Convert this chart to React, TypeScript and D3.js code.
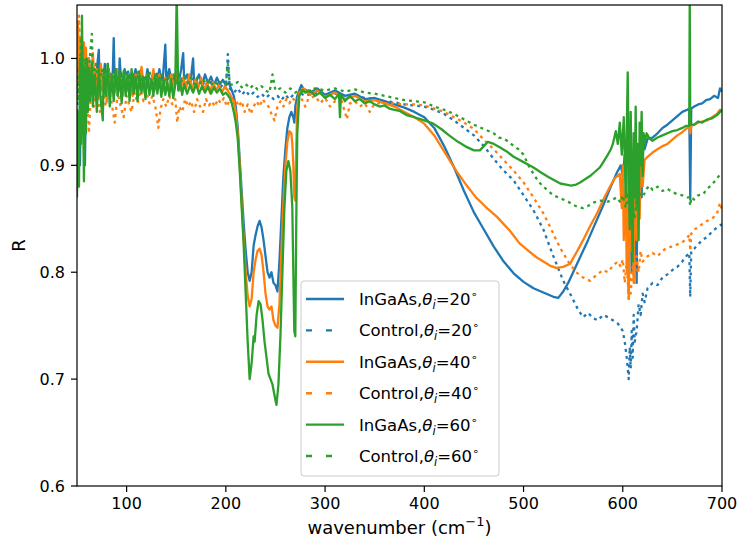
import React from "react";
import * as d3 from "d3";

// wavenumber (cm^-1), reflectance R
const ingaas20: [number, number][] = [
  [50, 0.92], [51, 0.89], [52, 0.95], [53, 0.9], [54, 0.97], [55, 0.93], [56, 0.99], [57, 0.95], [58, 0.9], [59, 0.97],
  [60, 0.99], [61, 0.96], [62, 1.0], [64, 0.975], [66, 0.995], [68, 0.97], [70, 0.99], [72, 1.008], [73, 0.965], [74, 0.985],
  [76, 0.97], [78, 0.995], [80, 0.975], [82, 0.99], [84, 0.97], [86, 0.985], [87, 1.019], [88, 0.975], [90, 0.99], [92, 0.97],
  [93, 1.0], [94, 0.985], [96, 0.975], [98, 0.99], [100, 0.97], [103, 0.985], [106, 0.975], [109, 0.99], [112, 0.975], [115, 0.985],
  [118, 0.97], [121, 0.99], [124, 0.975], [127, 0.985], [130, 0.975], [133, 0.99], [136, 0.975], [139, 1.013], [140, 0.98], [143, 0.99],
  [146, 0.975], [149, 0.985], [152, 0.975], [155, 0.99], [157, 1.005], [158, 0.98], [161, 0.985], [164, 0.975], [167, 1.0], [168, 0.978],
  [170, 0.978], [173, 0.985], [176, 0.975], [179, 0.985], [182, 0.977], [185, 0.983], [188, 0.975], [191, 0.982], [194, 0.976], [197, 0.98],
  [200, 0.975], [203, 0.977], [206, 0.97], [208, 0.965], [210, 0.955], [212, 0.935], [214, 0.905], [216, 0.875], [218, 0.845], [220, 0.82],
  [222, 0.8], [224, 0.792], [226, 0.8], [228, 0.825], [230, 0.835], [232, 0.843], [234, 0.848], [236, 0.842], [238, 0.83], [240, 0.815],
  [242, 0.8], [244, 0.795], [246, 0.8], [248, 0.79], [250, 0.788], [252, 0.782], [254, 0.81], [256, 0.85], [258, 0.89], [260, 0.915],
  [262, 0.935], [264, 0.945], [266, 0.95], [268, 0.945], [269, 0.94], [270, 0.955], [272, 0.965], [274, 0.97], [276, 0.975], [278, 0.972],
  [285, 0.968], [292, 0.972], [300, 0.966], [310, 0.97], [320, 0.965], [330, 0.967], [340, 0.962], [350, 0.963], [360, 0.96], [370, 0.957],
  [380, 0.954], [390, 0.95], [400, 0.945], [410, 0.935], [420, 0.918], [430, 0.898], [440, 0.876], [450, 0.856], [460, 0.84], [470, 0.824],
  [480, 0.81], [490, 0.799], [500, 0.791], [510, 0.785], [520, 0.781], [530, 0.777], [535, 0.776], [540, 0.782], [545, 0.79], [550, 0.8],
  [557, 0.814], [565, 0.83], [572, 0.845], [580, 0.862], [587, 0.878], [594, 0.893], [598, 0.9], [600, 0.89], [602, 0.91], [604, 0.86],
  [605, 0.92], [606, 0.78], [607, 0.89], [608, 0.91], [609, 0.8], [610, 0.9], [611, 0.86], [612, 0.92], [614, 0.79], [615, 0.91],
  [616, 0.88], [618, 0.93], [619, 0.87], [620, 0.925], [622, 0.915], [625, 0.925], [630, 0.926], [635, 0.93], [640, 0.935], [645, 0.938],
  [650, 0.942], [655, 0.946], [660, 0.95], [665, 0.952], [667, 0.953], [668, 0.868], [669, 0.953], [672, 0.955], [676, 0.957], [680, 0.958],
  [684, 0.961], [688, 0.962], [692, 0.965], [696, 0.963], [698, 0.972], [700, 0.969],
];

const control20: [number, number][] = [
  [50, 0.95], [53, 1.0], [56, 0.97], [59, 0.995], [62, 0.975], [65, 0.99], [68, 0.972], [71, 0.992], [74, 0.978], [77, 0.99],
  [80, 0.975], [83, 0.988], [86, 0.978], [89, 0.99], [92, 0.975], [95, 0.987], [98, 0.978], [101, 0.99], [104, 0.976], [107, 0.985],
  [110, 0.975], [113, 0.988], [116, 0.978], [119, 0.985], [122, 0.975], [125, 0.985], [128, 0.978], [131, 0.987], [134, 0.976], [137, 0.984],
  [140, 0.977], [143, 0.985], [146, 0.976], [149, 0.984], [152, 0.977], [155, 0.983], [158, 0.976], [161, 0.982], [164, 0.975], [167, 0.981],
  [170, 0.976], [173, 0.98], [176, 0.974], [179, 0.979], [182, 0.974], [185, 0.978], [188, 0.973], [191, 0.977], [194, 0.972], [197, 0.976],
  [200, 0.972], [202, 1.004], [204, 0.972], [208, 0.968], [212, 0.972], [216, 0.966], [220, 0.97], [224, 0.965], [228, 0.968], [232, 0.964],
  [236, 0.967], [240, 0.963], [244, 0.966], [248, 0.962], [252, 0.965], [256, 0.961], [260, 0.966], [264, 0.962], [268, 0.966], [272, 0.963],
  [276, 0.967], [280, 0.965], [290, 0.968], [300, 0.966], [310, 0.967], [320, 0.965], [330, 0.966], [340, 0.963], [350, 0.962], [360, 0.96],
  [370, 0.959], [380, 0.957], [390, 0.956], [400, 0.955], [410, 0.952], [420, 0.948], [430, 0.942], [440, 0.935], [450, 0.928], [460, 0.918],
  [470, 0.906], [480, 0.895], [490, 0.886], [500, 0.872], [510, 0.858], [520, 0.84], [530, 0.815], [540, 0.792], [548, 0.778], [555, 0.765],
  [560, 0.758], [565, 0.762], [570, 0.757], [575, 0.755], [580, 0.76], [585, 0.758], [590, 0.755], [595, 0.752], [598, 0.748], [600, 0.745],
  [602, 0.735], [604, 0.72], [606, 0.7], [607, 0.73], [608, 0.71], [609, 0.745], [610, 0.72], [611, 0.76], [612, 0.735], [614, 0.745],
  [616, 0.77], [618, 0.76], [620, 0.78], [622, 0.772], [625, 0.785], [630, 0.79], [635, 0.788], [640, 0.795], [645, 0.798], [650, 0.802],
  [655, 0.805], [660, 0.81], [664, 0.815], [667, 0.818], [668, 0.777], [669, 0.82], [672, 0.822], [676, 0.826], [680, 0.83], [685, 0.833],
  [690, 0.838], [695, 0.842], [700, 0.845],
];

const ingaas40: [number, number][] = [
  [50, 0.96], [51, 1.035], [52, 0.98], [53, 1.02], [54, 0.95], [55, 1.01], [56, 0.97], [57, 1.015], [58, 0.98], [59, 1.01],
  [60, 0.965], [62, 1.0], [64, 0.975], [66, 1.005], [68, 0.97], [70, 0.99], [72, 0.965], [74, 0.995], [76, 0.97], [78, 0.985],
  [80, 0.96], [82, 0.99], [84, 0.972], [86, 0.985], [88, 0.968], [90, 0.99], [92, 0.97], [94, 0.982], [96, 0.965], [98, 0.985],
  [100, 0.97], [103, 0.98], [106, 0.965], [109, 0.985], [112, 0.97], [115, 0.992], [118, 0.968], [121, 0.985], [124, 0.972], [127, 0.99],
  [130, 0.97], [133, 0.985], [136, 0.968], [139, 0.982], [142, 0.97], [145, 0.985], [148, 0.972], [151, 0.988], [154, 0.97], [157, 0.982],
  [160, 0.972], [163, 0.985], [166, 0.97], [169, 0.98], [172, 0.972], [175, 0.982], [178, 0.97], [181, 0.978], [184, 0.968], [187, 0.978],
  [190, 0.97], [193, 0.975], [196, 0.968], [199, 0.974], [202, 0.97], [205, 0.965], [208, 0.96], [210, 0.95], [212, 0.93], [214, 0.9],
  [216, 0.865], [218, 0.83], [220, 0.8], [222, 0.778], [224, 0.768], [226, 0.775], [228, 0.8], [230, 0.812], [232, 0.82], [234, 0.822],
  [236, 0.816], [238, 0.8], [240, 0.78], [242, 0.768], [244, 0.765], [246, 0.768], [248, 0.755], [250, 0.75], [252, 0.748], [254, 0.77],
  [256, 0.82], [258, 0.865], [260, 0.9], [262, 0.922], [264, 0.932], [266, 0.93], [267, 0.92], [268, 0.9], [269, 0.87], [270, 0.867],
  [271, 0.92], [272, 0.955], [274, 0.968], [276, 0.97], [278, 0.972], [285, 0.966], [292, 0.97], [300, 0.964], [310, 0.968], [320, 0.962],
  [330, 0.965], [340, 0.96], [350, 0.961], [360, 0.958], [370, 0.955], [380, 0.95], [390, 0.945], [400, 0.939], [410, 0.928], [420, 0.913],
  [432, 0.895], [442, 0.882], [452, 0.87], [462, 0.861], [473, 0.852], [480, 0.845], [486, 0.839], [496, 0.827], [505, 0.82], [513, 0.814],
  [520, 0.81], [527, 0.806], [533, 0.804], [540, 0.805], [547, 0.808], [553, 0.818], [560, 0.83], [567, 0.843], [574, 0.855], [580, 0.867],
  [587, 0.88], [592, 0.888], [597, 0.892], [599, 0.86], [600, 0.9], [601, 0.83], [603, 0.88], [604, 0.8], [605, 0.9], [606, 0.775],
  [607, 0.86], [608, 0.91], [609, 0.82], [610, 0.88], [611, 0.79], [612, 0.9], [614, 0.83], [615, 0.92], [617, 0.85], [618, 0.9],
  [620, 0.88], [622, 0.905], [625, 0.908], [630, 0.912], [635, 0.915], [640, 0.918], [645, 0.92], [650, 0.924], [655, 0.928], [660, 0.931],
  [665, 0.935], [667, 0.936], [668, 0.93], [669, 0.937], [672, 0.938], [676, 0.94], [680, 0.941], [685, 0.942], [690, 0.945], [695, 0.948],
  [698, 0.952], [700, 0.95],
];

const control40: [number, number][] = [
  [50, 1.0], [52, 1.04], [54, 0.98], [56, 1.01], [58, 0.94], [60, 0.975], [62, 0.93], [64, 0.97], [67, 0.955], [70, 0.975],
  [73, 0.95], [76, 0.97], [79, 0.955], [82, 0.972], [85, 0.958], [88, 0.94], [91, 0.968], [94, 0.955], [97, 0.945], [100, 0.965],
  [103, 0.955], [105, 0.95], [108, 0.968], [111, 0.958], [114, 0.97], [117, 0.96], [120, 0.968], [123, 0.958], [126, 0.965], [129, 0.955],
  [132, 0.935], [134, 0.952], [137, 0.962], [140, 0.955], [143, 0.965], [146, 0.957], [149, 0.962], [151, 0.94], [153, 0.955], [156, 0.95],
  [159, 0.962], [162, 0.955], [165, 0.96], [168, 0.95], [171, 0.962], [174, 0.955], [177, 0.95], [180, 0.962], [183, 0.956], [186, 0.96],
  [189, 0.955], [192, 0.962], [195, 0.958], [198, 0.963], [201, 0.955], [204, 0.962], [207, 0.957], [210, 0.962], [213, 0.955], [216, 0.96],
  [219, 0.95], [222, 0.957], [225, 0.948], [228, 0.955], [231, 0.96], [234, 0.955], [237, 0.962], [240, 0.958], [243, 0.955], [246, 0.948],
  [249, 0.942], [252, 0.955], [255, 0.96], [258, 0.955], [261, 0.962], [264, 0.958], [267, 0.963], [270, 0.96], [275, 0.965], [280, 0.955],
  [283, 0.962], [290, 0.965], [295, 0.958], [300, 0.963], [305, 0.955], [310, 0.96], [315, 0.965], [320, 0.95], [322, 0.943], [325, 0.958],
  [330, 0.96], [335, 0.955], [340, 0.958], [345, 0.95], [350, 0.958], [360, 0.958], [370, 0.958], [380, 0.957], [390, 0.957], [400, 0.956],
  [410, 0.953], [420, 0.95], [430, 0.945], [440, 0.94], [450, 0.934], [460, 0.924], [470, 0.915], [480, 0.905], [490, 0.895], [500, 0.884],
  [510, 0.87], [520, 0.855], [527, 0.842], [533, 0.83], [538, 0.821], [545, 0.81], [553, 0.8], [560, 0.795], [567, 0.792], [573, 0.797],
  [580, 0.802], [585, 0.8], [590, 0.806], [595, 0.81], [598, 0.805], [600, 0.812], [602, 0.79], [604, 0.81], [606, 0.775], [607, 0.8],
  [608, 0.78], [610, 0.805], [612, 0.79], [614, 0.815], [616, 0.8], [618, 0.82], [620, 0.81], [625, 0.815], [630, 0.818], [635, 0.815],
  [640, 0.82], [645, 0.823], [650, 0.824], [655, 0.826], [660, 0.828], [665, 0.832], [667, 0.835], [668, 0.82], [669, 0.836], [672, 0.84],
  [676, 0.842], [680, 0.845], [685, 0.848], [690, 0.85], [695, 0.855], [698, 0.865], [700, 0.858],
];

const ingaas60: [number, number][] = [
  [50, 0.87], [51, 0.95], [52, 0.88], [53, 1.0], [54, 0.92], [55, 1.04], [56, 0.96], [57, 0.885], [58, 0.99], [59, 0.93],
  [60, 1.0], [61, 0.95], [62, 0.99], [63, 0.96], [65, 0.995], [66, 0.955], [68, 0.985], [70, 0.95], [72, 0.99], [74, 0.96],
  [76, 0.942], [77, 0.99], [79, 0.965], [81, 0.995], [83, 0.955], [85, 0.985], [87, 0.96], [89, 0.99], [91, 0.965], [93, 0.985],
  [95, 0.958], [97, 0.988], [99, 0.965], [101, 0.985], [103, 0.96], [105, 0.99], [107, 0.967], [109, 0.983], [111, 0.96], [113, 0.985],
  [115, 0.968], [117, 0.982], [119, 0.962], [121, 0.985], [123, 0.966], [125, 0.98], [127, 0.965], [129, 0.985], [131, 0.967], [133, 0.982],
  [135, 0.964], [137, 0.98], [139, 0.966], [141, 0.978], [143, 0.965], [145, 0.978], [147, 0.963], [149, 0.975], [150.5, 1.06], [152, 0.97],
  [154, 0.978], [156, 0.966], [158, 0.976], [161, 0.967], [164, 0.975], [167, 0.968], [170, 0.976], [173, 0.967], [176, 0.974], [179, 0.968],
  [182, 0.974], [185, 0.967], [188, 0.973], [191, 0.968], [194, 0.972], [197, 0.966], [200, 0.968], [204, 0.963], [206, 0.958], [208, 0.95],
  [210, 0.94], [212, 0.925], [214, 0.895], [216, 0.86], [218, 0.825], [220, 0.78], [222, 0.735], [224, 0.7], [226, 0.715], [228, 0.74],
  [229, 0.735], [231, 0.76], [233, 0.773], [235, 0.77], [237, 0.755], [239, 0.735], [241, 0.72], [243, 0.705], [245, 0.7], [247, 0.695],
  [248, 0.69], [250, 0.68], [251, 0.676], [253, 0.695], [255, 0.74], [257, 0.8], [259, 0.86], [261, 0.895], [263, 0.904], [265, 0.895],
  [267, 0.86], [268, 0.8], [269, 0.745], [270, 0.74], [271, 0.85], [272, 0.93], [274, 0.965], [276, 0.968], [278, 0.97], [280, 0.968],
  [285, 0.97], [290, 0.965], [295, 0.968], [300, 0.963], [305, 0.966], [310, 0.962], [314, 0.967], [315, 0.945], [316, 0.966], [320, 0.96],
  [325, 0.965], [330, 0.96], [335, 0.962], [340, 0.958], [345, 0.96], [350, 0.957], [355, 0.955], [360, 0.956], [365, 0.953], [370, 0.952],
  [375, 0.951], [382, 0.947], [390, 0.945], [400, 0.942], [409, 0.939], [417, 0.934], [425, 0.928], [434, 0.922], [443, 0.917], [450, 0.914],
  [456, 0.914], [460, 0.918], [464, 0.922], [470, 0.92], [476, 0.917], [483, 0.913], [490, 0.908], [500, 0.903], [510, 0.898], [518, 0.893],
  [525, 0.889], [531, 0.886], [537, 0.883], [543, 0.882], [548, 0.881], [553, 0.882], [557, 0.884], [562, 0.887], [567, 0.89], [572, 0.894],
  [577, 0.898], [581, 0.904], [585, 0.91], [588, 0.915], [590, 0.92], [593, 0.932], [595, 0.92], [597, 0.94], [599, 0.91], [601, 0.945],
  [603, 0.87], [604, 0.93], [605, 0.987], [606, 0.9], [607, 0.84], [608, 0.95], [609, 0.88], [610, 0.81], [611, 0.93], [612, 0.87],
  [613, 0.955], [614, 0.86], [615, 0.92], [616, 0.83], [617, 0.94], [618, 0.9], [619, 0.95], [620, 0.89], [621, 0.93], [622, 0.92],
  [624, 0.93], [627, 0.925], [630, 0.923], [635, 0.926], [640, 0.928], [645, 0.93], [650, 0.932], [655, 0.933], [660, 0.935], [664, 0.937],
  [667, 0.937], [667.5, 1.06], [668, 0.938], [672, 0.938], [676, 0.941], [680, 0.94], [685, 0.943], [690, 0.944], [695, 0.947], [700, 0.952],
];

const control60: [number, number][] = [
  [50, 0.99], [52, 0.96], [54, 1.02], [56, 0.975], [58, 1.0], [60, 0.97], [62, 0.99], [65, 1.023], [66, 0.98], [69, 0.995],
  [72, 0.97], [75, 0.99], [78, 0.975], [81, 0.995], [84, 0.97], [87, 0.985], [90, 0.975], [93, 0.99], [96, 0.973], [99, 0.986],
  [102, 0.975], [105, 0.988], [108, 0.977], [111, 0.99], [114, 0.975], [117, 0.985], [120, 0.976], [123, 0.988], [126, 0.975], [129, 0.984],
  [132, 0.977], [135, 0.986], [138, 0.976], [141, 0.984], [144, 0.978], [147, 0.985], [150, 0.977], [153, 0.984], [156, 0.978], [159, 0.983],
  [162, 0.977], [165, 0.982], [168, 0.976], [171, 0.982], [174, 0.977], [177, 0.981], [180, 0.976], [183, 0.98], [186, 0.976], [189, 0.979],
  [192, 0.975], [195, 0.978], [198, 0.975], [200, 0.976], [202, 0.995], [204, 0.976], [208, 0.975], [212, 0.978], [216, 0.973], [220, 0.976],
  [224, 0.972], [228, 0.975], [232, 0.971], [236, 0.974], [240, 0.97], [244, 0.968], [247, 0.985], [250, 0.97], [255, 0.972], [260, 0.968],
  [265, 0.972], [270, 0.968], [275, 0.971], [280, 0.969], [290, 0.972], [300, 0.97], [310, 0.972], [320, 0.969], [330, 0.971], [340, 0.968],
  [350, 0.967], [360, 0.965], [370, 0.963], [380, 0.961], [390, 0.96], [400, 0.959], [410, 0.955], [420, 0.952], [430, 0.948], [440, 0.943],
  [450, 0.938], [460, 0.934], [470, 0.93], [475, 0.926], [480, 0.925], [485, 0.922], [490, 0.918], [495, 0.915], [500, 0.91], [505, 0.9],
  [510, 0.892], [515, 0.885], [520, 0.88], [525, 0.876], [530, 0.872], [535, 0.87], [540, 0.868], [545, 0.866], [550, 0.863], [555, 0.861],
  [560, 0.86], [565, 0.862], [570, 0.865], [577, 0.867], [585, 0.866], [590, 0.868], [594, 0.87], [598, 0.865], [600, 0.872], [603, 0.86],
  [605, 0.875], [607, 0.855], [610, 0.862], [612, 0.85], [614, 0.868], [617, 0.875], [620, 0.87], [624, 0.878], [627, 0.881], [630, 0.877],
  [635, 0.88], [640, 0.876], [645, 0.878], [650, 0.875], [655, 0.873], [660, 0.872], [665, 0.87], [667, 0.87], [668, 0.862], [669, 0.87],
  [672, 0.868], [676, 0.872], [681, 0.873], [685, 0.878], [690, 0.882], [695, 0.888], [700, 0.893],
];

const xTicks = [100, 200, 300, 400, 500, 600, 700];
const yTicks = [0.6, 0.7, 0.8, 0.9, 1.0];
const legendAngles = ["20", "40", "60"];
const colors = ["#1f77b4", "#ff7f0e", "#2ca02c"];

const series = [
  { data: ingaas20, color: colors[0], dashed: false },
  { data: control20, color: colors[0], dashed: true },
  { data: ingaas40, color: colors[1], dashed: false },
  { data: control40, color: colors[1], dashed: true },
  { data: ingaas60, color: colors[2], dashed: false },
  { data: control60, color: colors[2], dashed: true },
];

export default function App() {
  const width = 738;
  const height = 550;
  const left = 77, right = 722, top = 5, bottom = 486;
  const x = d3.scaleLinear().domain([50, 700]).range([left, right]);
  const y = d3.scaleLinear().domain([0.6, 1.05]).range([bottom, top]);
  const line = d3
    .line<[number, number]>()
    .x((d) => x(d[0]))
    .y((d) => y(d[1]));
  const font = "DejaVu Sans";

  const legendRows = legendAngles.flatMap((a, i) => [
    { name: "InGaAs,", angle: a, color: colors[i], dashed: false },
    { name: "Control,", angle: a, color: colors[i], dashed: true },
  ]);

  return (
    <svg
      width={width}
      height={height}
      style={{ position: "absolute", left: 0, top: 0, background: "#fff" }}
      fontFamily={font}
    >
      <defs>
        <clipPath id="plot">
          <rect x={left} y={top} width={right - left} height={bottom - top} />
        </clipPath>
      </defs>
      <rect width={width} height={height} fill="#fff" />
      <g clipPath="url(#plot)">
        {series.map((s, i) => (
          <path
            key={i}
            d={line(s.data) ?? ""}
            fill="none"
            stroke={s.color}
            strokeWidth={2.3}
            strokeDasharray={s.dashed ? "3 4" : undefined}
            strokeLinejoin="round"
          />
        ))}
      </g>
      <rect x={left} y={top} width={right - left} height={bottom - top} fill="none" stroke="#000" strokeWidth={1.2} />
      {xTicks.map((t) => (
        <g key={t} transform={`translate(${x(t)},${bottom})`}>
          <line y2={6} stroke="#000" strokeWidth={1.2} />
          <text y={23} textAnchor="middle" fontSize={16} fill="#000">{t}</text>
        </g>
      ))}
      {yTicks.map((t) => (
        <g key={t} transform={`translate(${left},${y(t)})`}>
          <line x2={-6} stroke="#000" strokeWidth={1.2} />
          <text x={-12} dy="0.36em" textAnchor="end" fontSize={16} fill="#000">{t.toFixed(1)}</text>
        </g>
      ))}
      <text x={(left + right) / 2} y={534} textAnchor="middle" fontSize={18} fill="#000">
        wavenumber (cm<tspan dy={-8} fontSize={13}>−1</tspan><tspan dy={8}>)</tspan>
      </text>
      <text transform={`translate(25,${(top + bottom) / 2}) rotate(-90)`} textAnchor="middle" fontSize={18} fill="#000">
        R
      </text>
      <g>
        <rect x={301} y={281} width={198} height={195} rx={3} fill="#fff" fillOpacity={0.8} stroke="#cccccc" strokeWidth={1} />
        {legendRows.map((r, i) => {
          const cy = 299 + i * 31.4;
          return (
            <g key={i}>
              <line
                x1={306}
                x2={344}
                y1={cy}
                y2={cy}
                stroke={r.color}
                strokeWidth={2.4}
                strokeDasharray={r.dashed ? "6 14" : undefined}
              />
              <text x={359} y={cy + 6} fontSize={16.5} fill="#000">
                {r.name}
                <tspan fontStyle="italic">θ</tspan>
                <tspan fontStyle="italic" fontSize={11.5} dy={4}>i</tspan>
                <tspan dy={-4}>={r.angle}</tspan>
                <tspan fontSize={11} dy={-7}>∘</tspan>
              </text>
            </g>
          );
        })}
      </g>
    </svg>
  );
}
